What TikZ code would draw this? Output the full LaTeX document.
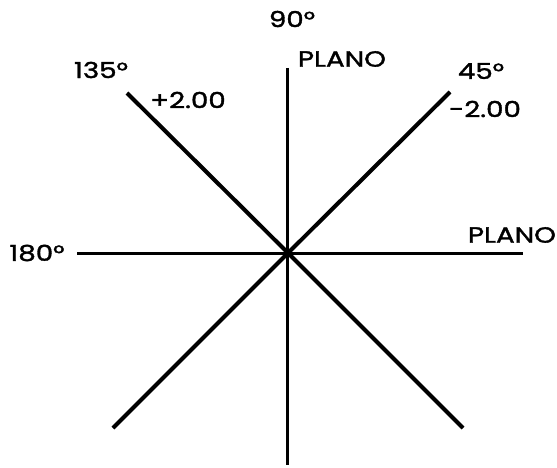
\documentclass[tikz,border=0pt]{standalone}
\usepackage{fontspec}
\newfontfamily\lblfont{Poppins}[FakeStretch=1.26,FakeBold=1.6]
\begin{document}
\begin{tikzpicture}[x=1pt,y=-1pt,
  axis/.style={line width=3pt,black},
  diag/.style={line width=4pt,black},
  lbl/.style={inner sep=0pt,font=\lblfont\fontsize{22}{22}\selectfont}]
\useasboundingbox (0,0) rectangle (557,468);
\coordinate (c) at (288,253);
\coordinate (vt) at (287,68);
\coordinate (vb) at (287,465);
\coordinate (hl) at (77,253);
\coordinate (hr) at (523,253);
\coordinate (ul) at (127,93);
\coordinate (ur) at (450,92);
\coordinate (ll) at (113,428);
\coordinate (lr) at (463,428);
\draw[axis] (vt) -- (vb);
\draw[axis] (hl) -- (hr);
\draw[diag] (ul) -- (c) -- (lr);
\draw[diag] (ur) -- (c) -- (ll);
\node[lbl] (t90) at (292,19) {90°};
\node[lbl] (p1) at (342,59) {PLANO};
\node[lbl] (t135) at (101,70) {135°};
\node[lbl] (plus) at (188,100) {+2.00};
\node[lbl] (t45) at (481,71) {45°};
\node[lbl] (minus) at (485,109) {-2.00};
\node[lbl] (t180) at (37,253) {180°};
\node[lbl] (p2) at (512,235) {PLANO};
\end{tikzpicture}
\end{document}
